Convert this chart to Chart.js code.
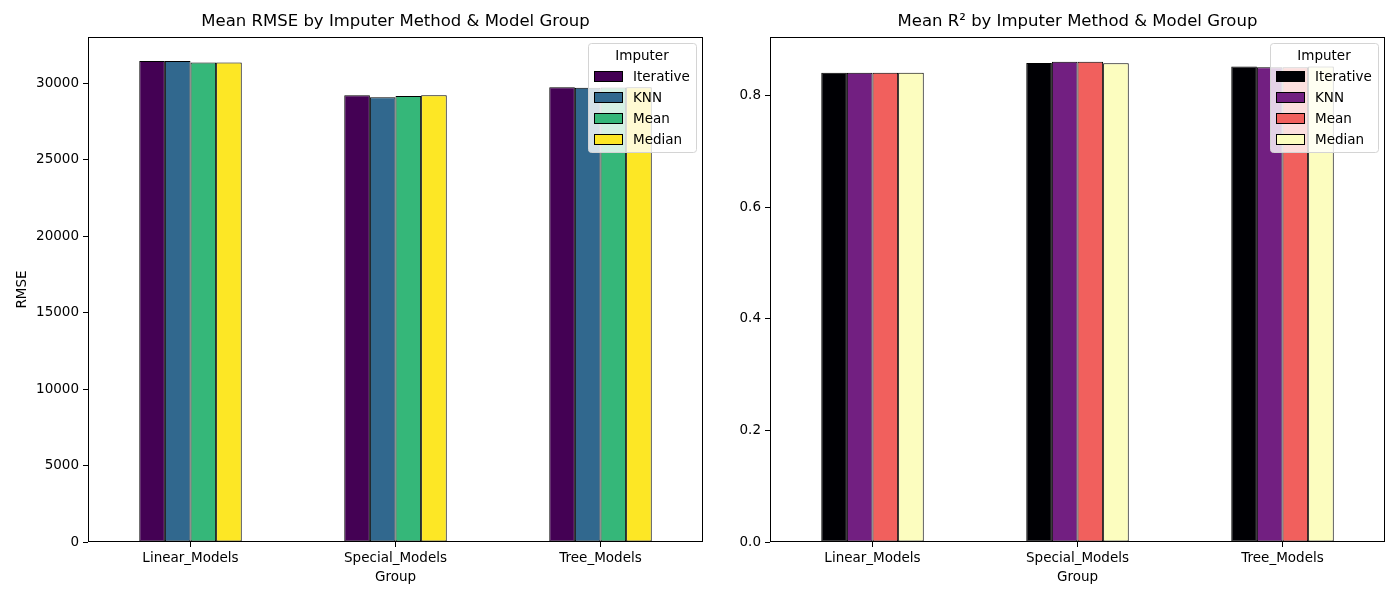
<!DOCTYPE html>
<html>
<head>
<meta charset="utf-8">
<script src="https://cdn.jsdelivr.net/npm/chart.js@4.4.1/dist/chart.umd.min.js"></script>
<style>
  body { margin: 0; background: #fff; }
  #wrap { position: relative; width: 1400px; height: 600px; }
  #c1 { position: absolute; left: 0; top: 0; }
  #c2 { position: absolute; left: 720px; top: 0; }
</style>
</head>
<body>
<div id="wrap">
  <canvas id="c1" width="720" height="600"></canvas>
  <canvas id="c2" width="680" height="600"></canvas>
</div>
<script>
// dados
const grupos = ['Linear_Models', 'Special_Models', 'Tree_Models'];
const imputers = ['Iterative', 'KNN', 'Mean', 'Median'];

const rmseIterative = [31440, 29210, 29720];
const rmseKNN = [31440, 29070, 29700];
const rmseMean = [31340, 29150, 29710];
const rmseMedian = [31340, 29200, 29720];

const r2Iterative = [0.841, 0.8585, 0.852];
const r2KNN = [0.841, 0.8605, 0.851];
const r2Mean = [0.841, 0.8605, 0.851];
const r2Median = [0.841, 0.858, 0.852];

const rmseTicks = [0, 5000, 10000, 15000, 20000, 25000, 30000];
const r2Ticks = [0.0, 0.2, 0.4, 0.6, 0.8];

const viridis = ['#440154', '#31688e', '#35b779', '#fde725'];
const magma = ['#000004', '#721f81', '#f1605d', '#fcfdbf'];

const FONT = 'DejaVu Sans';

// moldura, títulos e legenda estilo matplotlib
function decoracao(titulo, ylabel, cores) {
    return {
        id: 'decoracao',
        afterDraw(chart) {
            const ctx = chart.ctx;
            const a = chart.chartArea;
            ctx.save();
            ctx.strokeStyle = '#000';
            ctx.lineWidth = 1;
            ctx.strokeRect(Math.round(a.left) + 0.5, Math.round(a.top) + 0.5,
                Math.round(a.right - a.left) - 1, Math.round(a.bottom - a.top) - 1);

            ctx.fillStyle = '#000';
            ctx.textAlign = 'center';
            ctx.textBaseline = 'middle';
            ctx.font = '16.5px ' + FONT;
            ctx.fillText(titulo, (a.left + a.right) / 2, 22);

            ctx.font = '13.5px ' + FONT;
            ctx.fillText('Group', (a.left + a.right) / 2, 577);

            ctx.save();
            ctx.translate(a.left - 66, (a.top + a.bottom) / 2);
            ctx.rotate(-Math.PI / 2);
            ctx.fillText(ylabel, 0, 0);
            ctx.restore();

            // legenda
            const w = 108, h = 109;
            const x = Math.round(a.right - 7 - w), y = Math.round(a.top + 6);
            ctx.fillStyle = 'rgba(255,255,255,0.8)';
            ctx.strokeStyle = '#d4d4d4';
            ctx.beginPath();
            ctx.roundRect(x + 0.5, y + 0.5, w, h, 3);
            ctx.fill();
            ctx.stroke();

            ctx.fillStyle = '#000';
            ctx.textAlign = 'center';
            ctx.fillText('Imputer', x + w / 2, y + 13);
            ctx.textAlign = 'left';
            imputers.forEach((nome, i) => {
                const cy = y + 33 + i * 21;
                ctx.fillStyle = cores[i];
                ctx.fillRect(x + 6.5, cy - 4.5, 28, 10);
                ctx.strokeStyle = '#000';
                ctx.strokeRect(x + 6.5, cy - 4.5, 28, 10);
                ctx.fillStyle = '#000';
                ctx.fillText(nome, x + 45, cy + 1);
            });
            ctx.restore();
        }
    };
}

function criarGrafico(canvasId, series, cores, ticksY, maxY, casas, yWidth, padRight, titulo, ylabel) {
    const ctx = document.getElementById(canvasId).getContext('2d');
    return new Chart(ctx, {
        type: 'bar',
        data: {
            labels: grupos,
            datasets: imputers.map((nome, i) => ({
                label: nome,
                data: series[i],
                backgroundColor: cores[i],
                borderColor: '#000',
                borderWidth: 1,
                borderSkipped: false,
                categoryPercentage: 0.5,
                barPercentage: 1.0
            }))
        },
        options: {
            responsive: false,
            animation: false,
            layout: { padding: { top: 37, right: padRight, left: 0, bottom: 0 } },
            plugins: {
                legend: { display: false },
                title: { display: false },
                tooltip: { enabled: false }
            },
            scales: {
                x: {
                    grid: { offset: false, drawOnChartArea: false, drawTicks: true, tickLength: 5, color: '#000' },
                    border: { display: false },
                    ticks: { color: '#000', font: { family: FONT, size: 13.5 }, padding: 3, maxRotation: 0 },
                    afterFit(scale) { scale.height = 58; }
                },
                y: {
                    min: 0,
                    max: maxY,
                    grid: { drawOnChartArea: false, drawTicks: true, tickLength: 5, color: '#000' },
                    border: { display: false },
                    ticks: {
                        color: '#000',
                        font: { family: FONT, size: 13.5 },
                        padding: 4,
                        callback: v => casas ? Number(v).toFixed(casas) : String(v)
                    },
                    afterBuildTicks(scale) { scale.ticks = ticksY.map(v => ({ value: v })); },
                    afterFit(scale) { scale.width = yWidth; }
                }
            }
        },
        plugins: [decoracao(titulo, ylabel, cores)]
    });
}

criarGrafico('c1', [rmseIterative, rmseKNN, rmseMean, rmseMedian], viridis,
    rmseTicks, 33010, 0, 88, 17, 'Mean RMSE by Imputer Method & Model Group', 'RMSE');
criarGrafico('c2', [r2Iterative, r2KNN, r2Mean, r2Median], magma,
    r2Ticks, 0.905, 1, 50, 15, 'Mean R² by Imputer Method & Model Group', 'R²');
</script>
</body>
</html>
